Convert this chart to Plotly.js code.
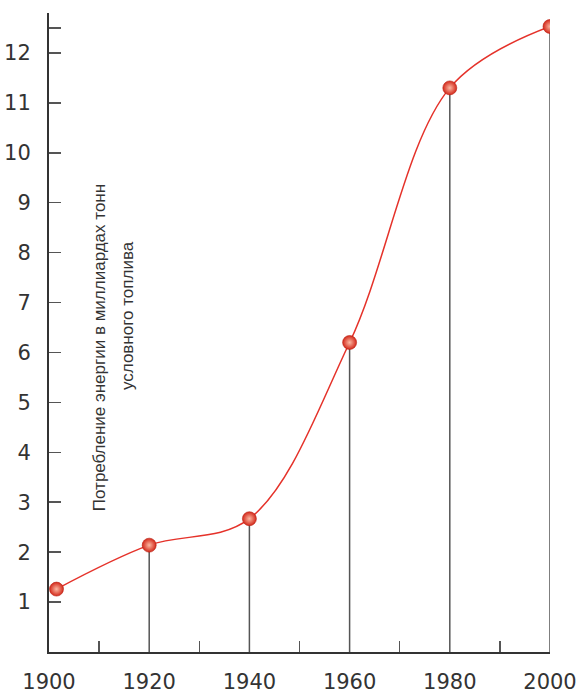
<!DOCTYPE html>
<html>
<head>
<meta charset="utf-8">
<script src="https://cdn.plot.ly/plotly-3.0.1.min.js"></script>
<style>html,body{margin:0;padding:0;background:#fff;}#chart{width:579px;height:693px;}</style>
</head>
<body>
<div id="chart"></div>
<script>
// Data
const years = [1901.5, 1920, 1940, 1960, 1980, 2000];
const energy = [1.26, 2.14, 2.67, 6.20, 11.30, 12.53];
const xTickVals = [1900, 1920, 1940, 1960, 1980, 2000];
const xTickText = ['1900', '1920', '1940', '1960', '1980', '2000'];
const xMinorVals = [1910, 1930, 1950, 1970, 1990];
const yTickVals = [1, 2, 3, 4, 5, 6, 7, 8, 9, 10, 11, 12];
const yTickText = ['1', '2', '3', '4', '5', '6', '7', '8', '9', '10', '11', '12'];
const yMinorVals = [12.5];
const titleLine1 = 'Потребление энергии в миллиардах тонн';
const titleLine2 = 'условного топлива';

// drop lines from each point (except the one sitting on the y axis) down to zero
const dropX = [], dropY = [];
years.forEach((x, i) => {
  if (x >= 1910) { dropX.push(x, x, null); dropY.push(0, energy[i], null); }
});

const traces = [
  {
    x: dropX, y: dropY, type: 'scatter', mode: 'lines',
    line: {color: '#555', width: 1.5}, hoverinfo: 'skip', showlegend: false
  },
  {
    x: years, y: energy, type: 'scatter', mode: 'lines',
    line: {color: '#e5322a', width: 1.5, shape: 'spline', smoothing: 1},
    showlegend: false
  },
  {
    x: years, y: energy, type: 'scatter', mode: 'markers',
    marker: {
      size: 14, color: '#d3281a',
      gradient: {type: 'radial', color: '#fcb8a2'},
      line: {color: '#b82214', width: 0.6}
    },
    showlegend: false
  }
];

const font = 'DejaVu Sans, sans-serif';
const layout = {
  width: 579, height: 693,
  margin: {l: 49, r: 29, t: 13, b: 41, pad: 0},
  paper_bgcolor: '#fff', plot_bgcolor: '#fff',
  showlegend: false,
  xaxis: {
    range: [1900, 2000], fixedrange: true,
    showgrid: false, zeroline: false,
    showline: true, linecolor: '#333', linewidth: 2,
    tickmode: 'array', tickvals: xTickVals, ticktext: xTickText,
    ticks: '', ticklabelstandoff: 10,
    tickfont: {family: font, size: 21, color: '#333'},
    minor: {tickmode: 'array', tickvals: xMinorVals, ticks: 'inside', ticklen: 11, tickwidth: 1.5, tickcolor: '#555', showgrid: false}
  },
  yaxis: {
    range: [0, 12.8], fixedrange: true,
    showgrid: false, zeroline: false,
    showline: true, linecolor: '#333', linewidth: 2,
    tickmode: 'array', tickvals: yTickVals, ticktext: yTickText,
    ticks: 'inside', ticklen: 12, tickwidth: 1.5, tickcolor: '#555',
    ticklabelstandoff: 12,
    tickfont: {family: font, size: 21, color: '#333'},
    minor: {tickmode: 'array', tickvals: yMinorVals, ticks: 'inside', ticklen: 12, tickwidth: 1.5, tickcolor: '#555', showgrid: false}
  },
  annotations: [
    {
      text: titleLine1, xref: 'paper', yref: 'paper', x: 0.0998, y: 0.477,
      xanchor: 'center', yanchor: 'middle', textangle: -90, showarrow: false,
      font: {family: 'Liberation Sans, Arial, sans-serif', size: 17, color: '#333'}
    },
    {
      text: titleLine2, xref: 'paper', yref: 'paper', x: 0.158, y: 0.526,
      xanchor: 'center', yanchor: 'middle', textangle: -90, showarrow: false,
      font: {family: 'Liberation Sans, Arial, sans-serif', size: 17, color: '#333'}
    }
  ]
};

Plotly.newPlot('chart', traces, layout, {staticPlot: true, displayModeBar: false});
</script>
</body>
</html>
